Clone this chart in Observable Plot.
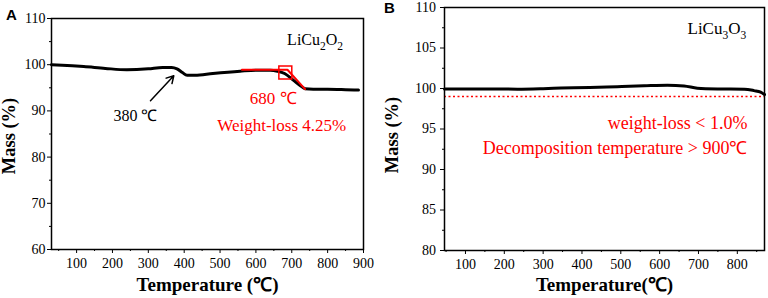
<!DOCTYPE html>
<html>
<head>
<meta charset="utf-8">
<script src="https://cdn.jsdelivr.net/npm/d3@7"></script>
<script src="https://cdn.jsdelivr.net/npm/@observablehq/plot@0.6"></script>
<style>
  body { margin: 0; background: #fff; }
  #wrap { position: relative; width: 768px; height: 298px; }
  .panel { position: absolute; top: 0; }
  #pb { z-index: 1; }
  #wrap svg { font-family: "Liberation Serif", "Times New Roman", serif; overflow: visible; background: none !important; }
  #wrap svg text.panel-letter { font-family: "Liberation Sans", Arial, sans-serif; }
</style>
</head>
<body>
<div id="wrap">
  <div id="pa" class="panel" style="left:0"></div>
  <div id="pb" class="panel" style="left:384px"></div>
</div>
<script>
// ---- Panel A: LiCu2O2 ----
const tempA = [30, 60, 120, 180, 240, 300, 340, 365, 380, 395, 408, 430, 480, 556, 600, 640, 660, 680, 705, 725, 737, 760, 800, 850, 886];
const massA = [100, 99.9, 99.6, 99.2, 98.9, 99.1, 99.4, 99.4, 99.1, 98.3, 97.7, 97.7, 98.1, 98.6, 98.8, 98.8, 98.6, 98.1, 96.6, 95.4, 94.8, 94.7, 94.7, 94.6, 94.5];
const redTempA = [561, 688, 737];
const redMassA = [98.9, 98.9, 94.7];
const squareA = {temp: 682, mass: 98.3};
const arrowA = {t1: 306, m1: 92.2, t2: 371, m2: 97.6};
const xTicksA = [100, 200, 300, 400, 500, 600, 700, 800, 900];
const xMinorA = [50, 150, 250, 350, 450, 550, 650, 750, 850];
const yTicksA = [60, 70, 80, 90, 100, 110];
const yMinorA = [65, 75, 85, 95, 105];

// ---- Panel B: LiCu3O3 ----
const tempB = [46, 100, 234, 300, 346, 420, 491, 560, 620, 663, 697, 749, 818, 843, 860, 870];
const massB = [99.95, 99.95, 99.92, 99.98, 100.05, 100.12, 100.23, 100.33, 100.4, 100.32, 100.04, 99.95, 99.92, 99.74, 99.55, 99.25];
const lossLineB = 99.0;
const xTicksB = [100, 200, 300, 400, 500, 600, 700, 800];
const xMinorB = [50, 150, 250, 350, 450, 550, 650, 750, 850];
const yTicksB = [80, 85, 90, 95, 100, 105, 110];
const yMinorB = [82.5, 87.5, 92.5, 97.5, 102.5, 107.5];

function axes(xt, xm, yt, ym, pad) {
  return [
    Plot.axisX({ticks: xt, tickSize: 4, tickPadding: pad.x, fontSize: 14, label: null, tickFormat: d => String(d)}),
    Plot.axisX({ticks: xm, tickSize: 2, text: null, label: null}),
    Plot.axisY({ticks: yt, tickSize: 4, tickPadding: pad.y, fontSize: 14, label: null, tickFormat: d => String(d)}),
    Plot.axisY({ticks: ym, tickSize: 2, text: null, label: null}),
  ];
}

function subscriptify(svg, plain, parts) {
  d3.select(svg).selectAll("text").filter(function() { return this.textContent === plain; }).each(function() {
    const t = d3.select(this);
    t.text(null);
    let sub = false;
    parts.forEach(([s, isSub]) => {
      const sp = t.append("tspan").text(s);
      if (isSub) { sp.attr("font-size", 11.5); if (!sub) { sp.attr("dy", 5); sub = true; } }
      else if (sub) { sp.attr("dy", -5); sub = false; }
    });
  });
}

function markLetter(svg, letter) {
  d3.select(svg).selectAll("text").filter(function() { return this.textContent === letter; }).classed("panel-letter", true);
}

const dataA = tempA.map((t, i) => ({t, m: massA[i]}));
const redA = redTempA.map((t, i) => ({t, m: redMassA[i]}));

const plotA = Plot.plot({
  width: 384, height: 298,
  marginLeft: 51, marginRight: 21, marginTop: 18, marginBottom: 49,
  x: {domain: [30, 900]},
  y: {domain: [60, 110]},
  marks: [
    ...axes(xTicksA, xMinorA, yTicksA, yMinorA, {x: 4.5, y: 2}),
    Plot.line(dataA, {x: "t", y: "m", stroke: "black", strokeWidth: 3, curve: "monotone-x"}),
    Plot.line(redA, {x: "t", y: "m", stroke: "#ff0000", strokeWidth: 2}),
    Plot.dot([squareA], {x: "temp", y: "mass", symbol: "square", r: 7.3, stroke: "#ff0000", fill: "none", strokeWidth: 1.5}),
    Plot.arrow([arrowA], {x1: "t1", y1: "m1", x2: "t2", y2: "m2", stroke: "black", strokeWidth: 1.5, headLength: 8}),
    Plot.text(["380 ℃"], {x: 264, y: 89, text: d => d, fontSize: 16, fill: "black"}),
    Plot.text(["680 ℃"], {x: 648, y: 92.6, text: d => d, fontSize: 17, fill: "#ff0000"}),
    Plot.text(["Weight-loss 4.25%"], {x: 672, y: 86.8, text: d => d, fontSize: 17, fill: "#ff0000"}),
    Plot.text(["LiCu2O2"], {x: 687, y: 105.4, text: d => d, fontSize: 16, textAnchor: "start", fill: "black"}),
    Plot.frame({stroke: "black", strokeWidth: 1.5}),
    Plot.text(["A"], {frameAnchor: "top-left", dx: -40, dy: -3, lineAnchor: "middle", text: d => d, fontWeight: "bold", fontSize: 15, textAnchor: "middle"}),
    Plot.text(["Temperature (℃)"], {frameAnchor: "bottom", dy: 35, lineAnchor: "middle", text: d => d, fontWeight: "bold", fontSize: 19}),
    Plot.text(["Mass (%)"], {frameAnchor: "left", dx: -42, dy: 2, rotate: -90, text: d => d, fontWeight: "bold", fontSize: 18.5, textAnchor: "middle"}),
  ]
});
subscriptify(plotA, "LiCu2O2", [["LiCu", false], ["2", true], ["O", false], ["2", true]]);
markLetter(plotA, "A");
document.getElementById("pa").append(plotA);

const dataB = tempB.map((t, i) => ({t, m: massB[i]}));

const plotB = Plot.plot({
  width: 384, height: 298,
  marginLeft: 60, marginRight: 4, marginTop: 7, marginBottom: 48,
  x: {domain: [46, 870]},
  y: {domain: [80, 110]},
  marks: [
    ...axes(xTicksB, xMinorB, yTicksB, yMinorB, {x: 5, y: 4.5}),
    Plot.ruleY([lossLineB], {stroke: "#ff0000", strokeWidth: 1.5, strokeDasharray: "2,2.5"}),
    Plot.line(dataB, {x: "t", y: "m", stroke: "black", strokeWidth: 3, curve: "monotone-x"}),
    Plot.text(["weight-loss < 1.0%"], {x: 826, y: 95.7, text: d => d, fontSize: 18, textAnchor: "end", fill: "#ff0000"}),
    Plot.text(["Decomposition temperature > 900℃"], {x: 826, y: 92.6, text: d => d, fontSize: 18, textAnchor: "end", fill: "#ff0000"}),
    Plot.text(["LiCu3O3"], {x: 823, y: 107.4, text: d => d, fontSize: 17, textAnchor: "end", fill: "black"}),
    Plot.frame({stroke: "black", strokeWidth: 1.5}),
    Plot.text(["B"], {frameAnchor: "top-left", dx: -55, dy: 1, lineAnchor: "middle", text: d => d, fontWeight: "bold", fontSize: 15, textAnchor: "middle"}),
    Plot.text(["Temperature(℃)"], {frameAnchor: "bottom", dy: 34, lineAnchor: "middle", text: d => d, fontWeight: "bold", fontSize: 19}),
    Plot.text(["Mass (%)"], {frameAnchor: "left", dx: -52, dy: 6, rotate: -90, text: d => d, fontWeight: "bold", fontSize: 18.5, textAnchor: "middle"}),
  ]
});
subscriptify(plotB, "LiCu3O3", [["LiCu", false], ["3", true], ["O", false], ["3", true]]);
markLetter(plotB, "B");
document.getElementById("pb").append(plotB);
</script>
</body>
</html>
